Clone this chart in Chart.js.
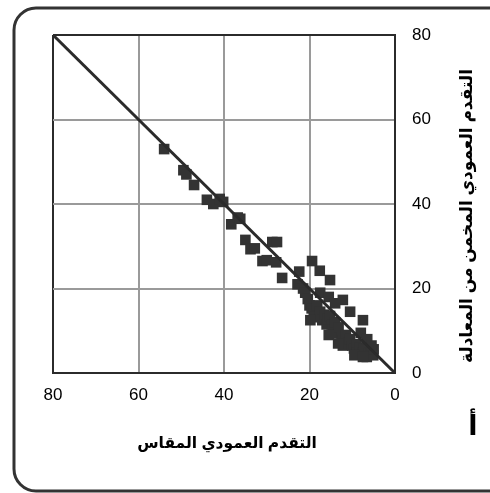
<!DOCTYPE html>
<html><head><meta charset="utf-8">
<script src="https://cdn.jsdelivr.net/npm/chart.js@4.4.1/dist/chart.umd.min.js"></script>
<style>html,body{margin:0;padding:0;background:#fff;overflow:hidden}#c{display:block}</style>
</head><body>
<canvas id="c" width="490" height="493" style="width:490px;height:493px"></canvas>
<script>
// measured vertical advance (x) and estimated vertical advance (y)
const measured  = [54,49.5,48.8,47,44,42.5,41,40.2,38.3,36.8,36.2,35,33.8,32.8,28.7,27.6,31,30,27.8,26.4,22.4,22.8,21.5,19.4,17.6,15.2,12.2,10.5,7.5,
  21,20.4,20,19.5,19,18.7,18.2,17.5,17,16.5,16,15.8,15.2,14.8,14.5,14,13.5,13.2,12.5,12.2,12.2,11.5,11,10.5,10,9.6,9,8.9,8.2,7.6,7.2,6.6,6.2,5.6,5.1,5,
  17.5,15.5,14,19.8,15.5,13.3,9.5,7.5,8,6.5,5.5];
const estimated = [53,48,47,44.5,41,40,41.2,40.5,35.2,36.8,36.5,31.5,29.3,29.5,31,31,26.5,26.7,26.2,22.5,24,21,20,26.5,24.2,22,17.3,14.5,12.5,
  19,17.5,16,15.3,14,13.2,16,14.5,12.5,13.8,11.5,12.8,13.5,11.5,10.2,12,9.5,10.8,8.5,7.8,6.5,9,7.2,8,6.5,5.8,6.8,4.7,6,4.8,5.8,3.8,4.8,4.5,4.2,5.6,
  19,18,16.5,12.5,9,7,4.2,3.8,9.5,8,6.5];
const lineX = [80, 0];
const lineY = [80, 0];
const axisMin = 0, axisMax = 80, axisStep = 20;
const xTitle = 'التقدم العمودي المقاس';
const yTitle = 'التقدم العمودي المخمن من المعادلة';
const panelLabel = 'أ';

const pts = measured.map((v, i) => ({x: v, y: estimated[i]}));
const linePts = lineX.map((v, i) => ({x: v, y: lineY[i]}));

const edgeColor = (ctx) => (ctx.tick && (ctx.tick.value === axisMin || ctx.tick.value === axisMax)) ? '#2b2b2b' : '#9a9a9a';

const decor = {
  id: 'decor',
  afterDraw(chart) {
    const c = chart.ctx;
    c.save();
    // outer rounded frame
    c.strokeStyle = '#333';
    c.lineWidth = 3;
    const x = 14, y = 8, w = 500, h = 483, r = 22;
    c.beginPath();
    c.moveTo(x + r, y);
    c.lineTo(x + w - r, y);
    c.arcTo(x + w, y, x + w, y + r, r);
    c.lineTo(x + w, y + h - r);
    c.arcTo(x + w, y + h, x + w - r, y + h, r);
    c.lineTo(x + r, y + h);
    c.arcTo(x, y + h, x, y + h - r, r);
    c.lineTo(x, y + r);
    c.arcTo(x, y, x + r, y, r);
    c.closePath();
    c.stroke();
    // titles
    c.fillStyle = '#000';
    c.textAlign = 'center';
    c.textBaseline = 'middle';
    c.font = 'bold 15.5px Arial, "Liberation Sans", "DejaVu Sans", sans-serif';
    const ca = chart.chartArea;
    c.fillText(xTitle, 227, 444);
    c.save();
    c.translate(467, 216);
    c.rotate(-Math.PI / 2);
    c.font = 'bold 17px Arial, "Liberation Sans", "DejaVu Sans", sans-serif';
    c.fillText(yTitle, 0, 0);
    c.restore();
    c.font = 'bold 27px Arial, "Liberation Sans", "DejaVu Sans", sans-serif';
    c.fillText(panelLabel, 473, 428);
    c.restore();
  }
};

new Chart(document.getElementById('c'), {
  type: 'scatter',
  data: {
    datasets: [
      {
        type: 'line',
        data: linePts,
        borderColor: '#2b2b2b',
        borderWidth: 3,
        pointRadius: 0,
        fill: false,
        order: 0
      },
      {
        data: pts,
        pointStyle: 'rect',
        pointRadius: 7.5,
        pointBackgroundColor: '#333',
        pointBorderColor: '#333',
        pointBorderWidth: 0,
        order: 1
      }
    ]
  },
  options: {
    responsive: false,
    animation: false,
    devicePixelRatio: 1,
    layout: { padding: { left: 53, top: 35, right: 0, bottom: 0 } },
    plugins: { legend: { display: false }, tooltip: { enabled: false } },
    scales: {
      x: {
        type: 'linear',
        position: 'bottom',
        reverse: true,
        min: axisMin, max: axisMax,
        ticks: { stepSize: axisStep, color: '#000', padding: 12, font: { family: 'Arial, "Liberation Sans", sans-serif', size: 17 } },
        grid: { color: edgeColor, lineWidth: 2, drawTicks: false },
        border: { color: '#2b2b2b', width: 2 },
        afterFit(s) { s.height = 120; }
      },
      y: {
        type: 'linear',
        position: 'right',
        min: axisMin, max: axisMax,
        ticks: { stepSize: axisStep, color: '#000', padding: 17, font: { family: 'Arial, "Liberation Sans", sans-serif', size: 17 } },
        grid: { color: edgeColor, lineWidth: 2, drawTicks: false },
        border: { color: '#2b2b2b', width: 2 },
        afterFit(s) { s.width = 95; }
      }
    }
  },
  plugins: [decor]
});
</script>
</body></html>
